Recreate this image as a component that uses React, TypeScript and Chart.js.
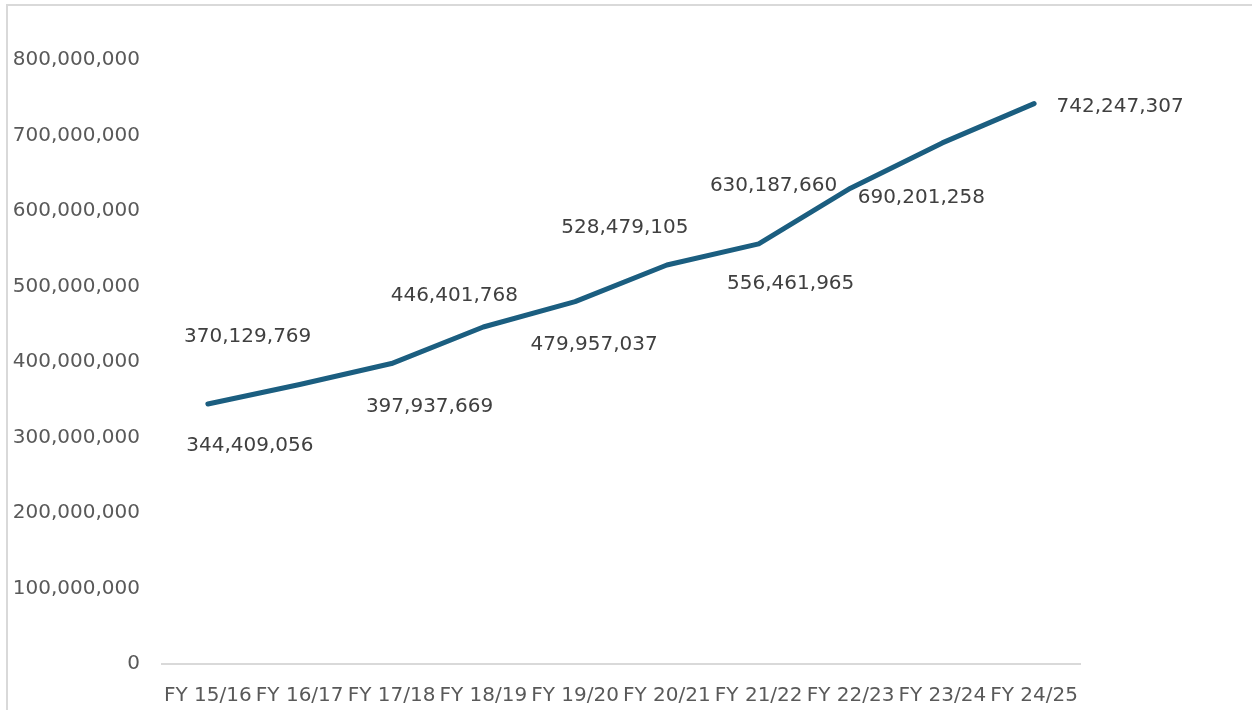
import React, { useEffect, useRef } from "react";
import { Chart, registerables } from "chart.js";

Chart.register(...registerables);

const categories = [
  "FY 15/16",
  "FY 16/17",
  "FY 17/18",
  "FY 18/19",
  "FY 19/20",
  "FY 20/21",
  "FY 21/22",
  "FY 22/23",
  "FY 23/24",
  "FY 24/25",
];

const values = [
  344409056, 370129769, 397937669, 446401768, 479957037, 528479105, 556461965,
  630187660, 690201258, 742247307,
];

// label centre offsets (px) relative to each point, as placed in the reference
const labelOffsetX = [42, -52, 38, -29, 19, -42, 32, -77, -21, 86];
const labelOffsetY = [42, -48, 43, -31, 43, -37, 40, -2, 55, 3];

const yTicks = { min: 0, max: 800000000, step: 100000000 };

const FONT = "'DejaVu Sans', sans-serif";
const fmt = (v: number) => Number(v).toLocaleString("en-US");

const dataLabelPlugin = {
  id: "customDataLabels",
  afterDatasetsDraw(chart: any) {
    const ctx = chart.ctx;
    const meta = chart.getDatasetMeta(0);
    ctx.save();
    ctx.font = `20px ${FONT}`;
    ctx.fillStyle = "#404040";
    ctx.textBaseline = "middle";
    ctx.textAlign = "center";
    meta.data.forEach((pt: any, i: number) => {
      ctx.fillText(fmt(values[i]), pt.x + labelOffsetX[i], pt.y + labelOffsetY[i]);
    });
    ctx.restore();
  },
};

export default function App() {
  const canvasRef = useRef<HTMLCanvasElement | null>(null);

  useEffect(() => {
    document.body.style.margin = "0";
    const canvas = canvasRef.current;
    if (!canvas) return;
    const chart = new Chart(canvas, {
      type: "line",
      data: {
        labels: categories,
        datasets: [
          {
            data: values,
            borderColor: "#1B5E80",
            borderWidth: 5,
            pointRadius: 0,
            pointHoverRadius: 0,
            tension: 0,
            fill: false,
            borderCapStyle: "round",
            borderJoinStyle: "round",
          },
        ],
      },
      options: {
        animation: false,
        responsive: false,
        maintainAspectRatio: false,
        layout: { padding: { top: 60, right: 172, bottom: 0, left: 0 } },
        plugins: {
          legend: { display: false },
          tooltip: { enabled: false },
          title: { display: false },
        },
        scales: {
          x: {
            offset: true,
            grid: { display: false, drawTicks: false },
            border: { display: true, color: "#d9d9d9", width: 2 },
            ticks: {
              color: "#595959",
              font: { family: FONT, size: 20 },
              padding: 20,
              maxRotation: 0,
              autoSkip: false,
            },
            afterFit: (scale: any) => {
              scale.height = 46;
            },
          },
          y: {
            min: yTicks.min,
            max: yTicks.max,
            grid: { display: false, drawTicks: false },
            border: { display: false },
            ticks: {
              stepSize: yTicks.step,
              color: "#595959",
              font: { family: FONT, size: 20 },
              padding: 22,
              callback: (v: any) => fmt(v),
            },
            afterFit: (scale: any) => {
              scale.width = 162;
            },
          },
        },
      },
      plugins: [dataLabelPlugin],
    });
    return () => chart.destroy();
  }, []);

  return (
    <div
      style={{
        position: "fixed",
        left: 0,
        top: 0,
        width: 1252,
        height: 710,
        background: "#ffffff",
        overflow: "hidden",
      }}
    >
      <canvas
        ref={canvasRef}
        width={1252}
        height={710}
        style={{ position: "absolute", left: 0, top: 0, width: 1252, height: 710 }}
      />
      <div
        style={{
          position: "absolute",
          left: 6,
          top: 4,
          width: 1300,
          height: 800,
          borderTop: "2px solid #d9d9d9",
          borderLeft: "2px solid #d9d9d9",
          pointerEvents: "none",
        }}
      />
    </div>
  );
}
